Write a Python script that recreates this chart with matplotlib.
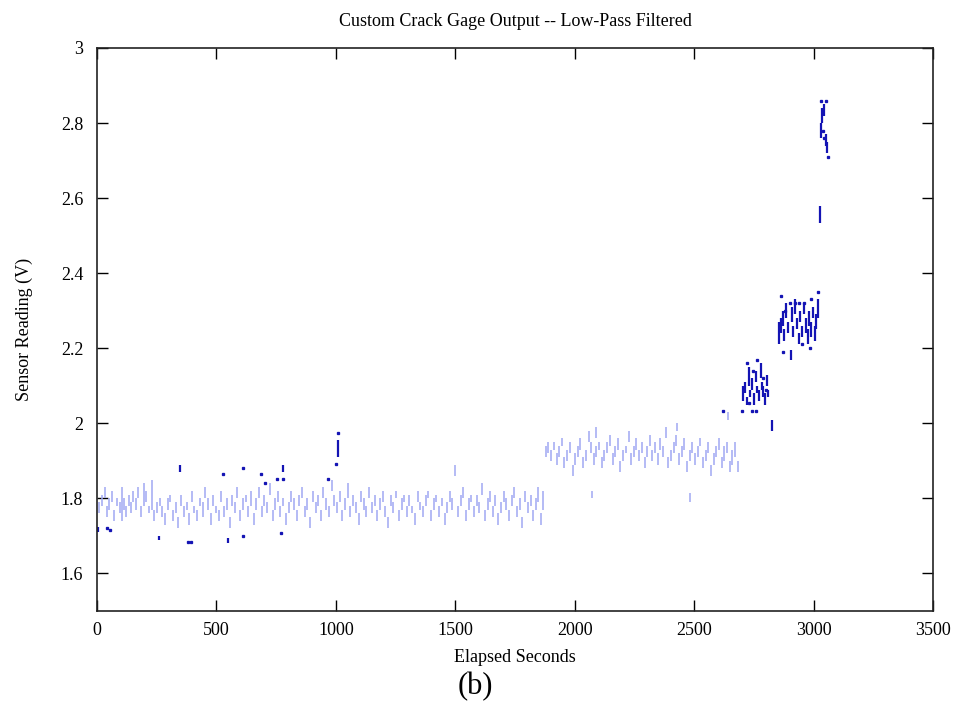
import matplotlib.pyplot as plt
import numpy as np

# light blue samples, plateau 1 (x in seconds, lower and upper end of each dash in V)
light_x_1 = [10, 22, 33, 42, 52, 63, 72, 82, 95, 104, 112, 121, 132, 141, 152, 163, 172, 184, 196,
             207, 218, 229, 240, 251, 262, 274, 285, 296, 307, 318, 330, 341, 352, 364, 375, 386,
             397, 408, 420, 431, 442, 453, 465, 476, 487, 498, 510, 521, 532, 543, 555, 566, 577,
             588, 600, 611, 622, 633, 645, 656, 667, 678, 690, 701, 712, 723, 735, 746, 757, 768,
             780, 791, 802, 813, 825, 836, 847, 858, 870, 881, 892, 903, 915, 926, 937, 948, 960,
             971, 982, 993, 1005, 1016, 1027, 1038, 1050, 1061, 1072, 1083, 1095, 1106, 1117,
             1128, 1140, 1151, 1162, 1173, 1185, 1196, 1207, 1218, 1230, 1241, 1252, 1263, 1275,
             1286, 1297, 1308, 1320, 1331, 1342, 1353, 1365, 1376, 1387, 1398, 1410, 1421, 1432,
             1443, 1455, 1466, 1477, 1488, 1500, 1511, 1522, 1533, 1545, 1556, 1567, 1578, 1590,
             1601, 1612, 1623, 1635, 1646, 1657, 1668, 1680, 1691, 1702, 1713, 1725, 1736, 1747,
             1758, 1770, 1781, 1792, 1803, 1815, 1826, 1837, 1848, 1858, 1866]
light_lo_1 = [1.76, 1.78, 1.80, 1.75, 1.77, 1.79, 1.74, 1.78, 1.76, 1.74, 1.77, 1.75, 1.78, 1.76,
              1.79, 1.77, 1.80, 1.75, 1.78, 1.79, 1.76, 1.77, 1.74, 1.76, 1.78, 1.75, 1.73, 1.77,
              1.79, 1.74, 1.76, 1.72, 1.78, 1.75, 1.77, 1.73, 1.79, 1.76, 1.74, 1.78, 1.75, 1.80,
              1.77, 1.73, 1.78, 1.76, 1.74, 1.79, 1.75, 1.77, 1.72, 1.78, 1.76, 1.80, 1.74, 1.77,
              1.79, 1.75, 1.78, 1.73, 1.77, 1.80, 1.75, 1.78, 1.76, 1.81, 1.74, 1.77, 1.79, 1.75,
              1.78, 1.73, 1.76, 1.79, 1.77, 1.74, 1.78, 1.80, 1.75, 1.77, 1.72, 1.79, 1.76, 1.78,
              1.74, 1.80, 1.77, 1.75, 1.82, 1.78, 1.76, 1.79, 1.74, 1.77, 1.80, 1.75, 1.78, 1.76,
              1.73, 1.79, 1.77, 1.75, 1.80, 1.76, 1.78, 1.74, 1.77, 1.79, 1.75, 1.72, 1.78, 1.76,
              1.80, 1.74, 1.77, 1.79, 1.75, 1.78, 1.76, 1.73, 1.79, 1.77, 1.75, 1.78, 1.80, 1.74,
              1.77, 1.79, 1.75, 1.78, 1.73, 1.76, 1.79, 1.77, 1.86, 1.75, 1.78, 1.80, 1.74, 1.77,
              1.79, 1.75, 1.78, 1.76, 1.81, 1.74, 1.77, 1.79, 1.75, 1.78, 1.73, 1.76, 1.79, 1.77,
              1.74, 1.78, 1.80, 1.75, 1.77, 1.72, 1.79, 1.76, 1.78, 1.74, 1.77, 1.79, 1.73, 1.77]
light_hi_1 = [1.79, 1.81, 1.83, 1.78, 1.80, 1.82, 1.77, 1.80, 1.79, 1.83, 1.80, 1.78, 1.81, 1.79,
              1.82, 1.80, 1.83, 1.78, 1.84, 1.82, 1.78, 1.85, 1.77, 1.79, 1.80, 1.78, 1.76, 1.80,
              1.81, 1.77, 1.79, 1.75, 1.81, 1.78, 1.79, 1.76, 1.82, 1.78, 1.77, 1.80, 1.79, 1.83,
              1.80, 1.76, 1.81, 1.78, 1.77, 1.82, 1.78, 1.80, 1.75, 1.81, 1.79, 1.83, 1.77, 1.80,
              1.81, 1.78, 1.82, 1.76, 1.80, 1.83, 1.78, 1.81, 1.79, 1.84, 1.77, 1.80, 1.82, 1.78,
              1.80, 1.76, 1.79, 1.82, 1.80, 1.77, 1.81, 1.83, 1.78, 1.80, 1.75, 1.82, 1.79, 1.81,
              1.77, 1.83, 1.80, 1.78, 1.85, 1.81, 1.79, 1.82, 1.77, 1.80, 1.84, 1.78, 1.81, 1.79,
              1.76, 1.82, 1.80, 1.78, 1.83, 1.79, 1.81, 1.77, 1.80, 1.82, 1.78, 1.75, 1.81, 1.79,
              1.82, 1.77, 1.80, 1.81, 1.78, 1.81, 1.78, 1.76, 1.82, 1.79, 1.78, 1.81, 1.82, 1.77,
              1.80, 1.81, 1.78, 1.80, 1.76, 1.79, 1.82, 1.80, 1.89, 1.78, 1.81, 1.83, 1.77, 1.80,
              1.81, 1.78, 1.81, 1.79, 1.84, 1.77, 1.80, 1.82, 1.78, 1.81, 1.76, 1.79, 1.82, 1.80,
              1.77, 1.81, 1.83, 1.78, 1.80, 1.75, 1.82, 1.79, 1.81, 1.77, 1.80, 1.83, 1.76, 1.82]

# light blue samples, plateau 2
light_x_2 = [1880, 1890, 1902, 1913, 1924, 1935, 1946, 1957, 1968, 1980, 1991, 2002, 2013, 2024,
             2035, 2046, 2058, 2069, 2072, 2080, 2090, 2091, 2102, 2113, 2124, 2136, 2147, 2158,
             2169, 2180, 2191, 2202, 2214, 2225, 2236, 2247, 2258, 2269, 2280, 2292, 2303, 2314,
             2325, 2336, 2347, 2358, 2370, 2381, 2392, 2403, 2414, 2425, 2430, 2436, 2448, 2459,
             2470, 2481, 2483, 2492, 2503, 2514, 2526, 2537, 2548, 2559, 2570, 2581, 2592, 2604,
             2615, 2626, 2637, 2640, 2648, 2660, 2671, 2682]
light_lo_2 = [1.91, 1.92, 1.90, 1.93, 1.89, 1.91, 1.94, 1.88, 1.90, 1.92, 1.86, 1.89, 1.91, 1.93,
              1.88, 1.90, 1.95, 1.92, 1.80, 1.89, 1.96, 1.91, 1.93, 1.88, 1.90, 1.92, 1.94, 1.89,
              1.91, 1.93, 1.87, 1.90, 1.92, 1.95, 1.89, 1.91, 1.93, 1.90, 1.92, 1.88, 1.91, 1.94,
              1.90, 1.92, 1.89, 1.93, 1.91, 1.96, 1.88, 1.90, 1.92, 1.94, 1.98, 1.89, 1.91, 1.93,
              1.87, 1.90, 1.79, 1.92, 1.89, 1.91, 1.94, 1.88, 1.90, 1.92, 1.86, 1.89, 1.91, 1.93,
              1.88, 1.90, 1.92, 2.01, 1.87, 1.89, 1.91, 1.87]
light_hi_2 = [1.94, 1.95, 1.93, 1.95, 1.92, 1.94, 1.96, 1.91, 1.93, 1.95, 1.89, 1.92, 1.94, 1.96,
              1.91, 1.93, 1.98, 1.95, 1.82, 1.92, 1.99, 1.94, 1.95, 1.91, 1.93, 1.95, 1.97, 1.92,
              1.94, 1.96, 1.90, 1.93, 1.94, 1.98, 1.92, 1.94, 1.96, 1.93, 1.95, 1.91, 1.94, 1.97,
              1.93, 1.95, 1.92, 1.96, 1.94, 1.99, 1.91, 1.93, 1.95, 1.97, 2.00, 1.92, 1.94, 1.96,
              1.90, 1.93, 1.815, 1.95, 1.92, 1.94, 1.96, 1.91, 1.93, 1.95, 1.89, 1.92, 1.94, 1.96,
              1.91, 1.94, 1.95, 2.03, 1.90, 1.93, 1.95, 1.90]

# dark blue dashes (outliers and the rising part)
dark_x = [3, 260, 347, 547, 779, 1010,
          2705, 2712, 2720, 2728, 2735, 2742, 2750, 2757, 2763, 2770, 2778, 2784, 2790, 2797,
          2804, 2810, 2824,
          2855, 2862, 2870, 2878, 2885, 2893, 2904, 2908, 2915, 2922, 2930, 2937, 2945, 2952,
          2960, 2967, 2975, 2982, 2990, 2997, 3005, 3012, 3020,
          3027, 3030, 3037, 3045, 3050, 3055]
dark_lo = [1.71, 1.69, 1.87, 1.681, 1.87, 1.91,
           2.06, 2.08, 2.05, 2.10, 2.07, 2.09, 2.05, 2.11, 2.08, 2.06, 2.12, 2.09, 2.07, 2.05,
           2.10, 2.07, 1.98,
           2.21, 2.24, 2.26, 2.22, 2.28, 2.24, 2.17, 2.27, 2.23, 2.29, 2.25, 2.21, 2.27, 2.23,
           2.29, 2.24, 2.21, 2.26, 2.23, 2.28, 2.22, 2.25, 2.28,
           2.535, 2.76, 2.80, 2.82, 2.74, 2.72]
dark_hi = [1.724, 1.70, 1.89, 1.694, 1.89, 1.955,
           2.10, 2.11, 2.07, 2.15, 2.09, 2.12, 2.08, 2.14, 2.10, 2.09, 2.16, 2.11, 2.10, 2.08,
           2.13, 2.09, 2.01,
           2.27, 2.28, 2.30, 2.25, 2.32, 2.27, 2.195, 2.31, 2.26, 2.33, 2.28, 2.24, 2.30, 2.26,
           2.32, 2.28, 2.25, 2.30, 2.27, 2.31, 2.26, 2.29, 2.33,
           2.58, 2.80, 2.84, 2.85, 2.77, 2.75]

# dark blue single points
dot_x = [40, 54, 380, 393, 526, 610, 611, 686, 703, 752, 777, 769, 967, 999, 1010,
         2620, 2700, 2740, 2760, 2720, 2765, 2745, 2790, 2730, 2800,
         2865, 2900, 2920, 2940, 2960, 2990, 3020, 2880, 2950, 2985, 2870,
         3030, 3050, 3040, 3042, 3060]
dot_y = [1.72, 1.715, 1.685, 1.685, 1.865, 1.882, 1.70, 1.865, 1.842, 1.852, 1.852, 1.708, 1.852,
         1.892, 1.974,
         2.033, 2.033, 2.033, 2.033, 2.16, 2.17, 2.14, 2.12, 2.055, 2.09,
         2.34, 2.32, 2.32, 2.32, 2.32, 2.33, 2.35, 2.30, 2.21, 2.20, 2.19,
         2.86, 2.86, 2.78, 2.76, 2.71]

x_ticks = [0, 500, 1000, 1500, 2000, 2500, 3000, 3500]
y_ticks = [1.6, 1.8, 2.0, 2.2, 2.4, 2.6, 2.8, 3.0]

plt.rcParams['font.family'] = ['Liberation Serif', 'DejaVu Serif']

fig = plt.figure(figsize=(9.56, 7.13), dpi=100)
ax = fig.add_axes([0.1015, 0.1431, 0.8745, 0.7896])

light = '#a0a8f3'
dark = '#1414b4'
ax.vlines(light_x_1, light_lo_1, light_hi_1, colors=light, linewidth=1.1)
ax.vlines(light_x_2, light_lo_2, light_hi_2, colors=light, linewidth=1.1)
ax.vlines(dark_x, dark_lo, dark_hi, colors=dark, linewidth=1.6)
ax.plot(dot_x, dot_y, 's', color=dark, markersize=1.4, linestyle='none')

ax.set_xlim(0, 3500)
ax.set_ylim(1.5, 3.0)
ax.set_xticks(x_ticks)
ax.set_yticks(y_ticks)
ax.set_xticklabels([f'{t:g}' for t in x_ticks])
ax.set_yticklabels([f'{t:g}' for t in y_ticks])
ax.tick_params(direction='in', length=8, width=1, top=True, right=True,
               labelsize=13, pad=8)
ax.tick_params(axis='y', pad=10)
for s in ax.spines.values():
    s.set_linewidth(1.2)
    s.set_color('#222222')

ax.set_title('Custom Crack Gage Output -- Low-Pass Filtered', fontsize=13, pad=16)
ax.set_xlabel('Elapsed Seconds', fontsize=13, labelpad=7)
ax.set_ylabel('Sensor Reading (V)', fontsize=13, labelpad=20)
fig.text(0.497, 0.037, '(b)', fontsize=22, ha='center', va='center')

fig.savefig('out.png', dpi=100)
